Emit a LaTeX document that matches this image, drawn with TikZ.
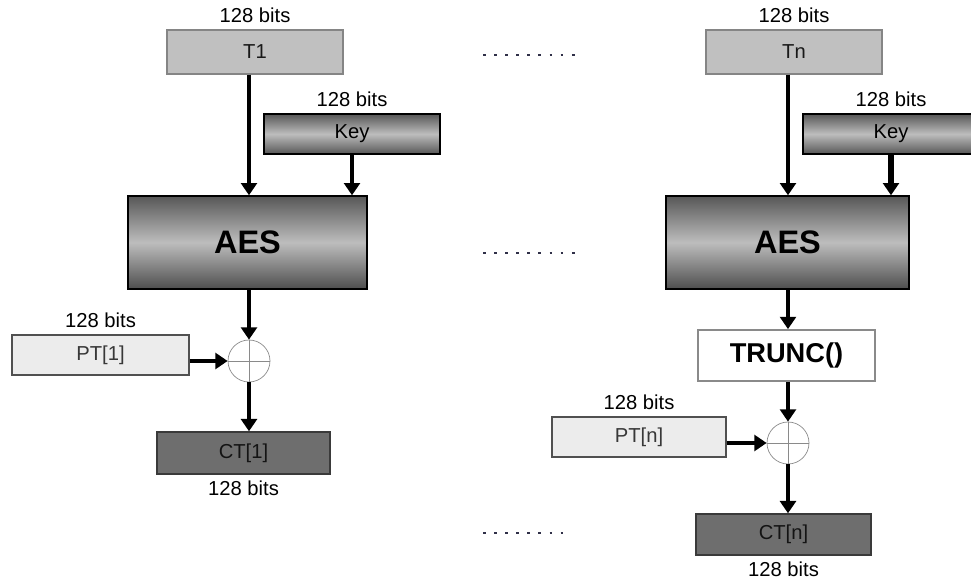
\documentclass[tikz,border=0pt]{standalone}
\usepackage{fontspec}
\setmainfont{Liberation Sans}
\usetikzlibrary{arrows.meta,positioning}
\definecolor{tweakfill}{HTML}{C0C0C0}
\definecolor{tweakedge}{HTML}{858585}
\definecolor{shadedark}{HTML}{575757}
\definecolor{shadelight}{HTML}{BDBDBD}
\definecolor{ptfill}{HTML}{ECECEC}
\definecolor{ptedge}{HTML}{505050}
\definecolor{ctfill}{HTML}{6E6E6E}
\definecolor{ctedge}{HTML}{3A3A3A}
\definecolor{xorgray}{HTML}{8A8A8A}
\definecolor{dotcol}{HTML}{303048}

\begin{document}
\begin{tikzpicture}[x=0.02cm,y=-0.02cm,>={Triangle[width=9pt,length=7pt]},
  every node/.style={font=\fontsize{11.5}{13}\selectfont},
  blk/.style={draw,line width=.8pt,inner sep=0pt,minimum width=3.52cm,minimum height=.8cm},
  tweak/.style={blk,fill=tweakfill,draw=tweakedge,text=black!90,minimum height=.88cm},
  keybox/.style={blk,top color=shadedark,bottom color=shadedark,middle color=shadelight,text=black},
  aesbox/.style={blk,top color=shadedark,bottom color=shadedark!90!black,middle color=shadelight,
    text=black,font=\bfseries\fontsize{18.5}{20}\selectfont,minimum height=1.86cm},
  ptbox/.style={blk,fill=ptfill,draw=ptedge,text=black!78},
  ctbox/.style={blk,fill=ctfill,draw=ctedge,text=black!92},
  truncbox/.style={blk,fill=white,draw=xorgray,line width=1pt,font=\bfseries\fontsize{15.5}{17}\selectfont},
  xor/.style={circle,draw=xorgray,thin,minimum size=.84cm,inner sep=0pt},
  flow/.style={->,line width=2.3pt},
  dots/.style={dotcol,line width=.055cm,dash pattern=on .055cm off .167cm}]
\useasboundingbox (0,0) rectangle (971,580);
\clip (0,0) rectangle (971,580);
% first block
\node[tweak] (t1) at (255,52) {T1};
\node[keybox] (key1) at (352,134) {Key};
\node[aesbox,minimum width=4.78cm] (aes1) at (247.5,242.5) {AES};
\node[xor] (xor1) at (249,361) {};
\draw[xorgray,thin] (xor1.north)--(xor1.south) (xor1.west)--(xor1.east);
\node[ptbox,minimum width=3.54cm] (pt1) at (100.5,355) {PT[1]};
\node[ctbox,minimum width=3.46cm,minimum height=.84cm] (ct1) at (243.5,453) {CT[1]};
\node[above=0pt of t1] {128 bits};
\node[above=0pt of key1] {128 bits};
\node[above=0pt of pt1] {128 bits};
\node[below=0pt of ct1] {128 bits};
\draw[flow] (t1.south -| xor1)--(aes1.north -| xor1);
\draw[flow] (key1.south)--(key1.south |- aes1.north);
\draw[flow] (aes1.south -| xor1)--(xor1.north);
\draw[flow] (pt1.east |- xor1)--(xor1.west);
\draw[flow] (xor1.south)--(ct1.north -| xor1);
% last block
\node[tweak] (tn) at (794,52) {Tn};
\node[keybox] (keyn) at (891,134) {Key};
\node[aesbox,minimum width=4.86cm] (aesn) at (787.5,242.5) {AES};
\node[truncbox,minimum width=3.54cm,minimum height=1.02cm] (trunc) at (786.5,355.5) {TRUNC()};
\node[xor] (xorn) at (788,443) {};
\draw[xorgray,thin] (xorn.north)--(xorn.south) (xorn.west)--(xorn.east);
\node[ptbox,minimum width=3.48cm] (ptn) at (639,437) {PT[n]};
\node[ctbox,minimum width=3.5cm,minimum height=.82cm] (ctn) at (783.5,534.5) {CT[n]};
\node[above=0pt of tn] {128 bits};
\node[above=0pt of keyn] {128 bits};
\node[above=0pt of ptn] {128 bits};
\node[below=0pt of ctn] {128 bits};
\draw[flow] (tn.south -| xorn)--(aesn.north -| xorn);
\draw[flow,line width=3.2pt] (keyn.south)--(keyn.south |- aesn.north);
\draw[flow] (aesn.south -| xorn)--(trunc.north -| xorn);
\draw[flow] (trunc.south -| xorn)--(xorn.north);
\draw[flow] (ptn.east |- xorn)--(xorn.west);
\draw[flow] (xorn.south)--(ctn.north -| xorn);
% rounds in between
\draw[dots] (483,55)--(575,55);
\draw[dots] (483,253)--(575,253);
\draw[dots] (483,533)--(563,533);
\end{tikzpicture}
\end{document}
